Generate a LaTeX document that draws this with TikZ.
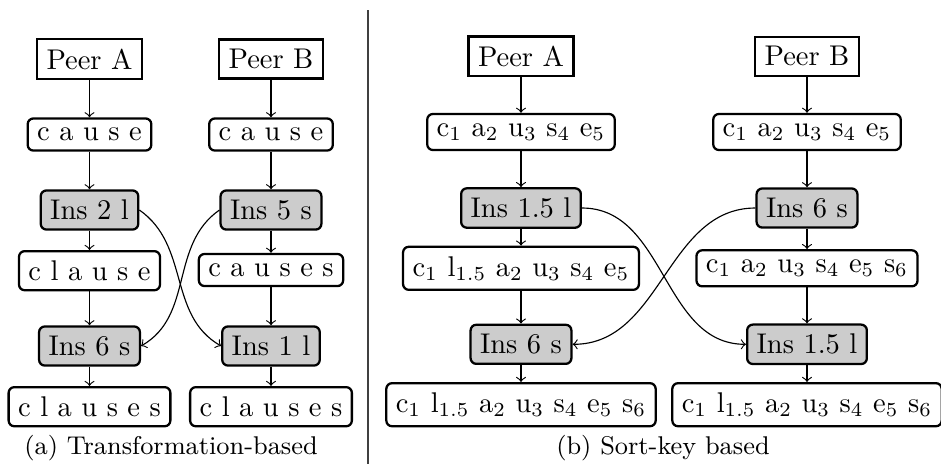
\documentclass[tikz,border=0pt]{standalone}
\begin{document}
\begin{tikzpicture}[x=0.35088pt,y=-0.35088pt,
  peer/.style={draw,thick,font=\fontsize{10}{12}\selectfont},
  seq/.style={draw,thick,rounded corners=2pt,font=\fontsize{10}{12}\selectfont},
  ins/.style={seq,fill=gray!40},
  captext/.style={anchor=base,font=\small},
  arr/.style={->}]
\useasboundingbox (0,0) rectangle (941,464);
% (a)
\node[peer] (aPA) at (89.5,59) {Peer A};
\node[peer] (aPB) at (271,59) {Peer B};
\node[seq] (aA1) at (89.5,134.5) {c a u s e};
\node[seq] (aB1) at (271,134.5) {c a u s e};
\node[ins] (aA2) at (89.5,210) {Ins 2 l};
\node[ins] (aB2) at (271,210) {Ins 5 s};
\node[seq] (aA3) at (89.5,270.7) {c l a u s e};
\node[seq] (aB3) at (271,270) {c a u s e s};
\node[ins] (aA4) at (89.5,346) {Ins 6 s};
\node[ins] (aB4) at (271,346) {Ins 1 l};
\node[seq] (aA5) at (89.5,406.7) {c l a u s e s};
\node[seq] (aB5) at (271,406.7) {c l a u s e s};
\foreach \p/\q in {aPA/aA1,aA1/aA2,aA2/aA3,aA3/aA4,aA4/aA5,aPB/aB1,aB1/aB2,aB2/aB3,aB3/aB4,aB4/aB5}
  \draw[arr] (\p) -- (\q);
\draw[arr] (aA2.east) to[out=-35,in=150] (aB4.west);
\draw[arr] (aB2.west) to[out=215,in=30] (aA4.east);
\node[captext] (capa) at (171,454) {(a) Transformation-based};
% divider
\coordinate (dt) at (368,10);
\coordinate (db) at (368,464);
\draw[black!75,line width=0.4pt] (dt) -- (db);
% (b)
\node[peer] (bPA) at (521,56.3) {Peer A};
\node[peer] (bPB) at (807,56.3) {Peer B};
\node[seq] (bA1) at (521,132) {c$_1$ a$_2$ u$_3$ s$_4$ e$_5$};
\node[seq] (bB1) at (807,132) {c$_1$ a$_2$ u$_3$ s$_4$ e$_5$};
\node[ins] (bA2) at (521,208) {Ins 1.5 l};
\node[ins] (bB2) at (807,208) {Ins 6 s};
\node[seq] (bA3) at (521,268.3) {c$_1$ l$_{1.5}$ a$_2$ u$_3$ s$_4$ e$_5$};
\node[seq] (bB3) at (807,268.3) {c$_1$ a$_2$ u$_3$ s$_4$ e$_5$ s$_6$};
\node[ins] (bA4) at (521,344.3) {Ins 6 s};
\node[ins] (bB4) at (807,344.3) {Ins 1.5 l};
\node[seq] (bA5) at (521,404.7) {c$_1$ l$_{1.5}$ a$_2$ u$_3$ s$_4$ e$_5$ s$_6$};
\node[seq] (bB5) at (807,404.7) {c$_1$ l$_{1.5}$ a$_2$ u$_3$ s$_4$ e$_5$ s$_6$};
\foreach \p/\q in {bPA/bA1,bA1/bA2,bA2/bA3,bA3/bA4,bA4/bA5,bPB/bB1,bB1/bB2,bB2/bB3,bB3/bB4,bB4/bB5}
  \draw[arr] (\p) -- (\q);
\draw[arr] (bA2.east) to[out=0,in=180] (bB4.west);
\draw[arr] (bB2.west) to[out=180,in=0] (bA4.east);
\node[captext] (capb) at (663,454) {(b) Sort-key based};
\end{tikzpicture}
\end{document}
